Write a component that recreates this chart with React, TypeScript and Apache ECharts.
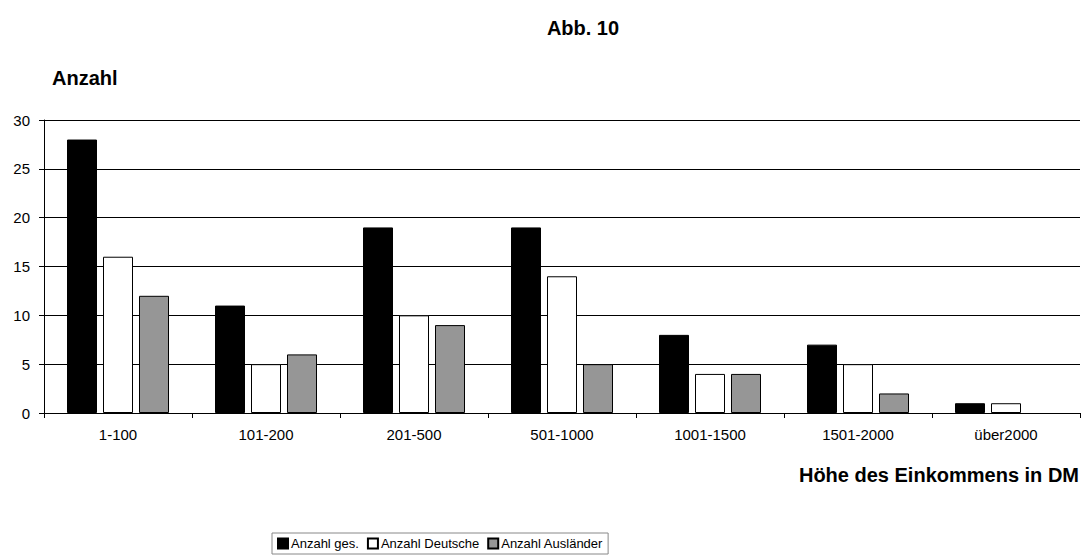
import React, { useEffect, useRef } from "react";
import * as echarts from "echarts";

const categories = ["1-100", "101-200", "201-500", "501-1000", "1001-1500", "1501-2000", "über2000"];
const anzahlGes = [28, 11, 19, 19, 8, 7, 1];
const anzahlDeutsche = [16, 5, 10, 14, 4, 5, 1];
const anzahlAuslaender = [12, 6, 9, 5, 4, 2, 0];
const seriesNames = ["Anzahl ges.", "Anzahl Deutsche", "Anzahl Ausländer"];
const seriesColors = ["#000000", "#ffffff", "#969696"];

const FONT = "Liberation Sans, Arial, sans-serif";

export default function App() {
  const ref = useRef<HTMLDivElement>(null);
  useEffect(() => {
    if (!ref.current) return;
    const chart = echarts.init(ref.current, null, { renderer: "svg" });
    const data = [anzahlGes, anzahlDeutsche, anzahlAuslaender];
    const bold = { fontFamily: FONT, fontSize: 20, fontWeight: "bold", color: "#000" };
    chart.setOption({
      animation: false,
      textStyle: { fontFamily: FONT },
      title: [
        { text: "Abb. 10", left: 578, top: 13, textAlign: "center", textStyle: bold },
        { text: "Anzahl", left: 47, top: 63, textStyle: bold },
        { text: "Höhe des Einkommens in DM", right: 4, top: 460, textStyle: bold },
      ],
      legend: {
        left: 272,
        top: 533,
        orient: "horizontal",
        itemWidth: 10,
        itemHeight: 10,
        itemGap: 8,
        padding: [4, 5, 4, 5],
        borderColor: "#888",
        borderWidth: 1,
        icon: "rect",
        textStyle: { fontFamily: FONT, fontSize: 13, color: "#000", padding: [0, 0, 0, -2] },
        data: seriesNames,
      },
      grid: { left: 44, right: 8, top: 120, bottom: 143, containLabel: false },
      xAxis: {
        type: "category",
        data: categories,
        boundaryGap: true,
        axisLine: { lineStyle: { color: "#000", width: 1 } },
        axisTick: { show: true, alignWithLabel: false, length: 5, lineStyle: { color: "#000" } },
        axisLabel: { fontFamily: FONT, fontSize: 15, color: "#000", margin: 14 },
      },
      yAxis: {
        type: "value",
        min: 0,
        max: 30,
        interval: 5,
        axisLine: { show: true, lineStyle: { color: "#000", width: 1 } },
        axisTick: { show: true, length: 5, lineStyle: { color: "#000" } },
        axisLabel: { fontFamily: FONT, fontSize: 15, color: "#000", margin: 14 },
        splitLine: { show: true, lineStyle: { color: "#000", width: 1 } },
      },
      series: seriesNames.map((name, i) => ({
        name,
        type: "bar",
        data: data[i].map((v) => (v === 0 ? { value: v, itemStyle: { borderWidth: 0, opacity: 0 } } : v)),
        barWidth: 30,
        barGap: "20%",
        itemStyle: { color: seriesColors[i], borderColor: "#000", borderWidth: 1 },
      })),
    });
    return () => chart.dispose();
  }, []);
  return <div ref={ref} style={{ width: 1088, height: 556, position: "absolute", left: 0, top: 0 }} />;
}
